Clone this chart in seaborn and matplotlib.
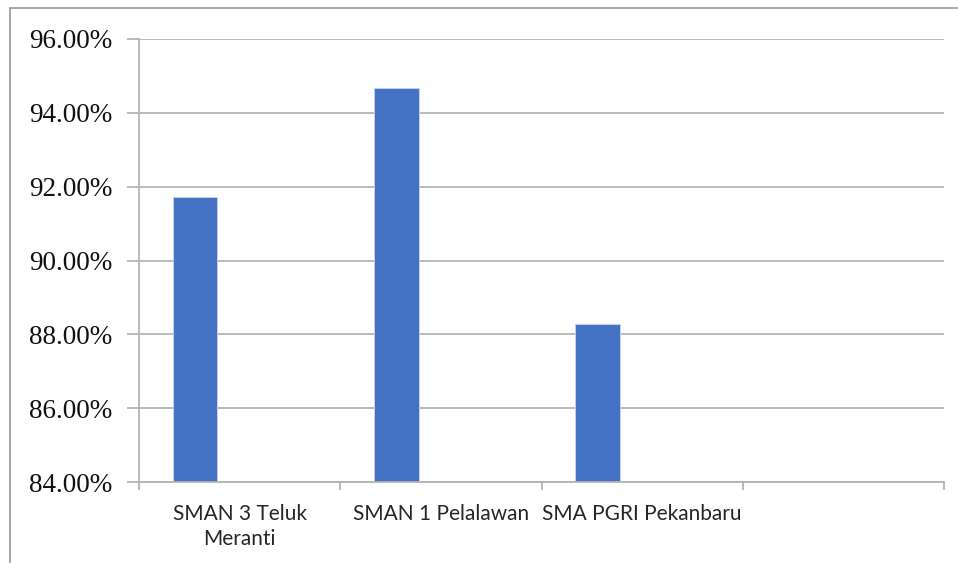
import numpy as np, pandas as pd
import matplotlib
matplotlib.use("Agg")
import matplotlib.pyplot as plt
from matplotlib.patches import Rectangle
from matplotlib.ticker import FixedLocator, PercentFormatter
import seaborn as sns

sns.set_theme(style="white")

schools = ["SMAN 3 Teluk\nMeranti", "SMAN 1 Pelalawan", "SMA PGRI Pekanbaru"]
series = ["Series1", "Series2", "Series3"]
pct_s1 = [91.72, 94.68, 88.28]
pct_s2 = [np.nan, np.nan, np.nan]
pct_s3 = [np.nan, np.nan, np.nan]
y_ticks = [84, 86, 88, 90, 92, 94, 96]

df = pd.DataFrame({
    "school": schools * 3,
    "series": [s for s in series for _ in schools],
    "pct": pct_s1 + pct_s2 + pct_s3,
})

W, H = 958, 563
fig = plt.figure(figsize=(W / 100, H / 100), dpi=100)
ax = fig.add_axes([139 / W, 1 - 482 / H, (944 - 139) / W, (482 - 39) / H])

sns.barplot(data=df, x="school", y="pct", hue="series", hue_order=series,
            order=schools, palette=["#4472C4", "#ED7D31", "#A5A5A5"],
            saturation=1, width=0.665, dodge=True, legend=False, ax=ax,
            edgecolor="#C9D6EE", linewidth=0.6)

grid_c = "#B4B4B4"
ax.set_xlim(-0.5, 3.5)
ax.set_ylim(84, 96)
ax.yaxis.set_major_locator(FixedLocator(y_ticks))
ax.yaxis.set_major_formatter(PercentFormatter(decimals=2))
ax.yaxis.grid(True, color=grid_c, lw=1.3)
ax.set_axisbelow(True)
ax.set_xlabel("")
ax.set_ylabel("")

for s in ["top", "right"]:
    ax.spines[s].set_visible(False)
for s in ["left", "bottom"]:
    ax.spines[s].set_color(grid_c)
    ax.spines[s].set_linewidth(1.3)

ax.tick_params(axis="y", which="major", length=9, width=1.3, color=grid_c,
               pad=10, left=True)
for lab in ax.get_yticklabels():
    lab.set_fontfamily("Liberation Serif")
    lab.set_fontsize(19.5)
    lab.set_color("#111111")

ax.set_xticks([0, 1, 2])
ax.set_xticklabels(schools, fontfamily="Lato", fontsize=15, color="#262626",
                   linespacing=1.32)
ax.tick_params(axis="x", which="major", length=0, pad=16)
ax.xaxis.set_minor_locator(FixedLocator([-0.5, 0.5, 1.5, 2.5, 3.5]))
ax.tick_params(axis="x", which="minor", length=6, width=1.3, color=grid_c,
               bottom=True)

fig.patches.append(Rectangle((10 / W, -0.1), 1.2, 1.1 - 8 / H,
                             transform=fig.transFigure, fill=False,
                             edgecolor="#9A9A9A", lw=1.2))

fig.savefig("out.png", dpi=100)
